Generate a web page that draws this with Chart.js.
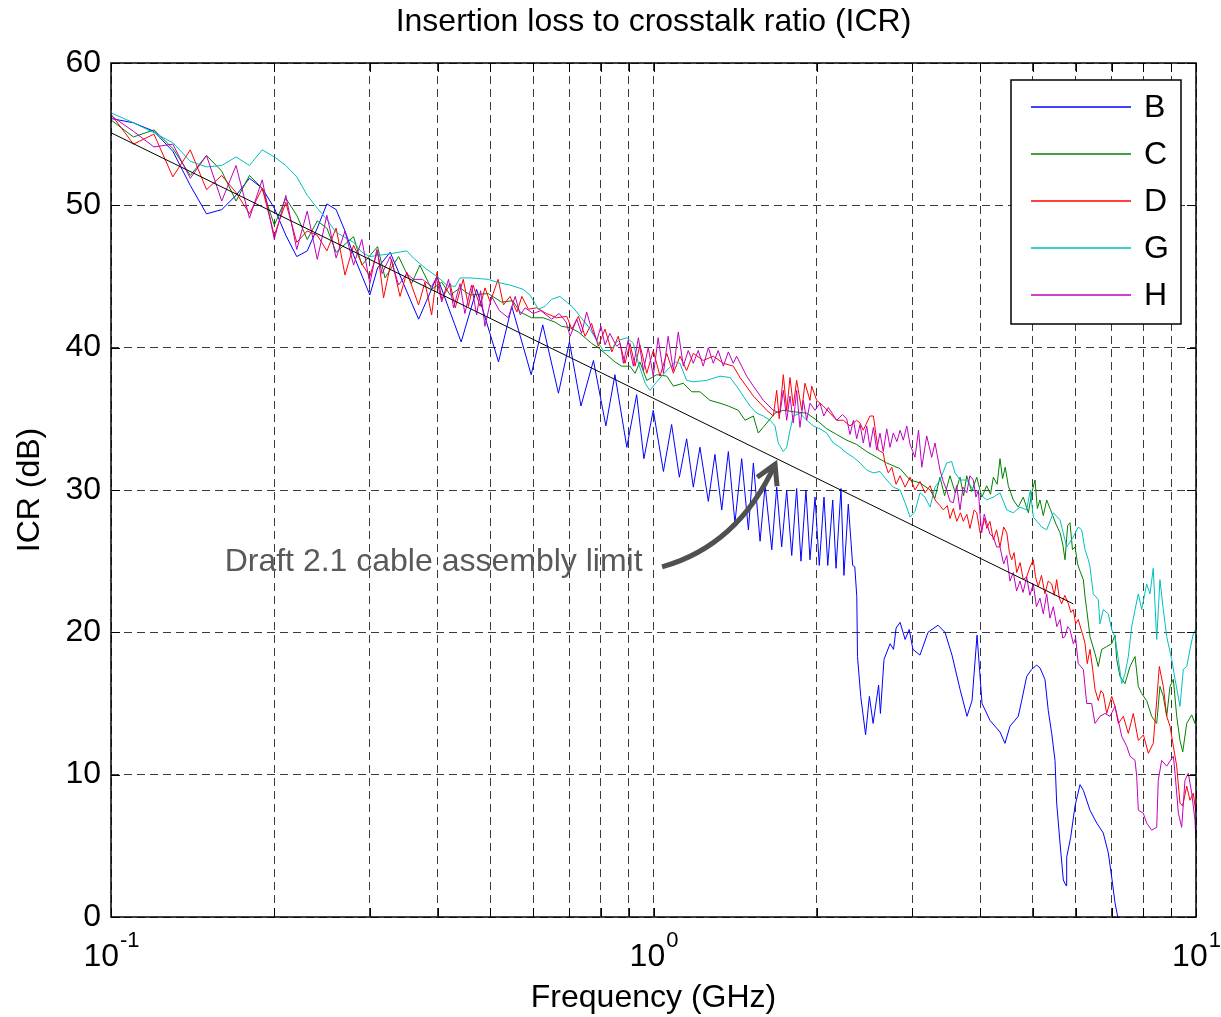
<!DOCTYPE html>
<html>
<head>
<meta charset="utf-8">
<title>Insertion loss to crosstalk ratio (ICR)</title>
<script src="https://cdn.jsdelivr.net/npm/chart.js@4.4.1/dist/chart.umd.min.js"></script>
<style>
  html, body { margin: 0; padding: 0; background: #fff; }
</style>
</head>
<body>
<canvas id="icr" width="1221" height="1017"></canvas>
<script>
// values, each point is [frequency in GHz, ICR in dB]
const seriesB = [[0.10,56.1],[0.11,55.8],[0.12,55.2],[0.13,53.8],[0.14,51.4],[0.15,49.4],[0.16,49.7],[0.17,50.7],[0.18,51.9],[0.19,51.2],[0.20,49.8],[0.21,47.9],[0.22,46.4],[0.23,46.8],[0.24,48.4],[0.25,50.1],[0.26,49.7],[0.27,48.2],[0.28,46.5],[0.30,43.7],[0.31,45.6],[0.327,46.7],[0.369,42.0],[0.399,45.0],[0.442,40.4],[0.472,44.1],[0.518,39.0],[0.548,42.9],[0.595,38.1],[0.625,41.6],[0.668,36.8],[0.700,40.4],[0.735,35.9],[0.775,39.1],[0.817,34.5],[0.849,38.1],[0.893,33.0],[0.931,36.7],[0.960,32.2],[0.999,35.6],[1.043,31.3],[1.080,34.6],[1.116,30.9],[1.151,33.6],[1.184,30.2],[1.218,33.0],[1.262,29.2],[1.298,32.5],[1.336,28.6],[1.374,32.7],[1.413,27.7],[1.454,32.2],[1.496,27.2],[1.528,31.9],[1.572,26.4],[1.606,30.3],[1.652,25.8],[1.687,30.2],[1.723,26.0],[1.760,30.0],[1.798,25.4],[1.836,30.1],[1.870,25.0],[1.910,30.0],[1.943,25.1],[1.985,29.5],[2.021,24.7],[2.062,29.5],[2.095,24.7],[2.140,29.3],[2.170,24.5],[2.216,30.1],[2.244,24.0],[2.286,29.0],[2.329,24.7],[2.350,24.6],[2.370,22.5],[2.377,18.3],[2.410,15.5],[2.460,12.8],[2.500,15.5],[2.540,13.6],[2.600,16.3],[2.620,14.3],[2.660,18.1],[2.730,19.2],[2.770,18.8],[2.800,20.3],[2.848,20.7],[2.909,19.5],[2.960,20.2],[3.008,18.8],[3.099,18.4],[3.206,20.0],[3.345,20.5],[3.446,20.0],[3.550,18.4],[3.673,16.0],[3.784,14.1],[3.865,15.2],[3.948,19.8],[4.033,15.0],[4.173,13.8],[4.352,13.0],[4.445,12.2],[4.540,13.4],[4.703,14.1],[4.772,15.2],[4.874,16.9],[4.979,17.4],[5.085,17.7],[5.157,17.5],[5.267,16.7],[5.342,14.5],[5.420,12.9],[5.497,11.0],[5.536,8.0],[5.615,5.2],[5.694,2.6],[5.760,2.2],[5.776,4.2],[5.875,5.6],[5.984,7.8],[6.112,9.3],[6.199,8.9],[6.377,7.5],[6.561,6.6],[6.747,5.9],[6.892,4.5],[6.992,2.8],[7.091,1.0],[7.192,-0.2]];

const seriesC = [[0.10,56.0],[0.11,54.8],[0.12,55.3],[0.13,54.0],[0.14,52.1],[0.15,53.5],[0.16,52.4],[0.17,50.3],[0.18,52.1],[0.19,51.2],[0.20,48.6],[0.21,50.5],[0.22,49.3],[0.23,47.6],[0.24,48.9],[0.25,48.4],[0.26,46.7],[0.28,47.8],[0.29,45.8],[0.31,47.1],[0.32,44.9],[0.339,46.4],[0.358,44.5],[0.371,45.8],[0.39,44.1],[0.407,44.6],[0.422,43.7],[0.44,44.2],[0.459,43.7],[0.496,43.8],[0.525,43.2],[0.55,43.3],[0.568,42.5],[0.596,42.1],[0.626,42.1],[0.658,41.8],[0.677,41.5],[0.702,41.4],[0.727,41.1],[0.748,40.7],[0.769,40.3],[0.791,40.0],[0.82,39.5],[0.849,39.0],[0.874,38.7],[0.905,38.7],[0.925,38.2],[0.944,39.0],[0.972,37.7],[1.014,38.1],[1.058,38.0],[1.088,37.3],[1.135,37.5],[1.176,36.9],[1.218,36.9],[1.271,36.3],[1.326,36.1],[1.374,35.9],[1.433,35.6],[1.475,34.9],[1.528,35.2],[1.56,34.0],[1.617,34.7],[1.675,35.4],[1.735,35.6],[1.81,35.5],[1.916,35.4],[1.999,34.9],[2.086,34.3],[2.176,33.9],[2.27,33.5],[2.369,33.2],[2.472,32.7],[2.579,32.3],[2.691,31.9],[2.848,31.5],[2.971,30.7],[3.099,30.5],[3.235,30.0],[3.30,29.4],[3.374,30.9],[3.44,29.6],[3.52,31.0],[3.60,29.8],[3.673,30.9],[3.73,29.6],[3.779,31.0],[3.86,29.9],[3.943,30.9],[4.03,29.5],[4.114,30.3],[4.18,29.7],[4.231,30.9],[4.30,30.4],[4.352,32.2],[4.40,30.8],[4.45,31.6],[4.508,30.3],[4.605,29.3],[4.703,28.8],[4.804,29.5],[4.909,28.4],[4.98,29.8],[5.05,30.7],[5.10,28.7],[5.157,29.3],[5.23,28.2],[5.306,29.3],[5.42,28.4],[5.52,27.6],[5.615,27.0],[5.68,26.2],[5.735,25.1],[5.80,27.5],[5.858,27.7],[5.92,25.8],[5.984,26.0],[6.05,24.8],[6.112,24.3],[6.199,23.7],[6.244,22.5],[6.288,21.6],[6.377,19.7],[6.514,18.5],[6.605,17.6],[6.701,18.8],[6.845,19.0],[6.992,19.2],[7.091,19.8],[7.142,18.1],[7.244,16.9],[7.399,16.4],[7.557,17.6],[7.72,18.3],[7.829,16.2],[7.941,15.7],[8.111,15.2],[8.286,14.1],[8.464,13.6],[8.581,16.2],[8.704,15.5],[8.831,14.1],[8.956,16.2],[9.083,16.7],[9.214,14.1],[9.343,12.4],[9.452,11.6],[9.614,13.6],[9.82,14.2],[9.958,13.6],[10.0,14.3]];

const seriesD = [[0.10,56.4],[0.11,54.3],[0.12,55.0],[0.13,52.0],[0.14,53.9],[0.15,51.1],[0.16,52.1],[0.17,50.9],[0.18,49.4],[0.19,51.2],[0.20,47.9],[0.21,50.2],[0.22,47.4],[0.23,48.2],[0.24,47.9],[0.25,46.8],[0.26,48.4],[0.27,45.1],[0.28,47.2],[0.29,45.9],[0.30,45.0],[0.31,46.8],[0.318,43.5],[0.329,46.2],[0.341,43.6],[0.351,45.3],[0.369,43.0],[0.379,44.6],[0.39,42.3],[0.399,45.3],[0.407,43.4],[0.422,44.5],[0.431,42.8],[0.446,44.8],[0.456,42.9],[0.465,44.4],[0.479,42.9],[0.489,44.2],[0.50,43.2],[0.517,44.8],[0.529,43.0],[0.544,43.6],[0.56,42.5],[0.572,43.6],[0.588,42.7],[0.609,42.8],[0.635,42.4],[0.663,42.1],[0.692,42.2],[0.707,41.3],[0.727,42.2],[0.748,40.8],[0.769,41.7],[0.791,40.1],[0.814,41.3],[0.838,39.7],[0.861,40.8],[0.886,38.9],[0.905,40.3],[0.925,38.7],[0.944,40.2],[0.972,38.2],[0.999,39.8],[1.028,38.0],[1.058,39.6],[1.088,38.2],[1.119,39.4],[1.151,38.4],[1.184,39.6],[1.235,39.1],[1.289,39.4],[1.345,38.9],[1.403,38.7],[1.444,37.9],[1.528,36.6],[1.572,36.1],[1.617,35.6],[1.663,35.2],[1.687,37.0],[1.705,35.0],[1.735,38.1],[1.76,35.6],[1.785,37.9],[1.81,35.9],[1.836,37.7],[1.876,35.6],[1.902,37.5],[1.943,36.3],[1.957,37.3],[1.999,36.3],[2.056,35.9],[2.115,35.4],[2.176,34.9],[2.239,34.9],[2.303,34.5],[2.369,34.9],[2.403,34.7],[2.436,34.2],[2.506,35.2],[2.543,35.2],[2.579,33.5],[2.596,32.8],[2.652,32.6],[2.671,31.9],[2.709,31.2],[2.749,31.6],[2.80,30.4],[2.848,31.0],[2.909,30.2],[2.971,30.9],[3.034,30.0],[3.099,30.6],[3.165,29.8],[3.235,30.3],[3.303,29.3],[3.374,28.9],[3.422,28.6],[3.48,28.9],[3.52,28.0],[3.57,28.7],[3.623,27.8],[3.68,28.4],[3.725,27.8],[3.78,28.3],[3.832,27.3],[3.90,28.6],[3.943,28.4],[4.00,27.0],[4.027,27.2],[4.08,28.0],[4.114,27.3],[4.17,27.8],[4.231,26.5],[4.29,27.2],[4.352,26.0],[4.42,27.4],[4.479,27.0],[4.53,25.6],[4.575,25.1],[4.62,25.6],[4.673,24.2],[4.74,24.9],[4.804,23.7],[4.874,23.9],[4.943,24.6],[5.013,25.1],[5.06,23.9],[5.12,23.2],[5.19,24.0],[5.267,22.7],[5.34,23.6],[5.42,23.4],[5.48,22.6],[5.536,23.7],[5.60,22.4],[5.655,22.0],[5.73,22.6],[5.819,22.0],[5.88,21.4],[5.941,21.6],[6.0,20.6],[6.067,20.9],[6.13,20.3],[6.199,19.7],[6.244,19.2],[6.303,17.8],[6.377,18.8],[6.45,17.4],[6.514,16.0],[6.605,15.2],[6.68,15.9],[6.747,15.7],[6.845,14.3],[6.992,15.5],[7.091,14.8],[7.192,13.6],[7.345,14.1],[7.503,12.9],[7.663,14.3],[7.829,12.4],[8.0,12.8],[8.169,11.5],[8.341,12.2],[8.464,15.2],[8.557,17.6],[8.704,16.2],[8.831,14.1],[8.956,13.4],[9.083,12.0],[9.214,10.6],[9.343,8.0],[9.45,7.8],[9.614,9.2],[9.748,8.2],[9.886,8.7],[10.0,7.3]];

const seriesG = [[0.10,56.5],[0.11,55.8],[0.12,55.1],[0.13,54.4],[0.14,53.1],[0.15,52.7],[0.16,52.8],[0.17,53.4],[0.18,52.8],[0.19,53.9],[0.20,53.4],[0.21,52.8],[0.22,52.0],[0.23,50.7],[0.24,49.8],[0.25,49.0],[0.26,48.1],[0.28,47.4],[0.29,46.7],[0.30,46.4],[0.327,46.6],[0.351,46.8],[0.361,46.3],[0.371,45.9],[0.382,45.5],[0.399,45.0],[0.416,44.4],[0.431,44.3],[0.44,44.9],[0.459,44.9],[0.496,44.8],[0.514,44.6],[0.544,44.4],[0.575,44.1],[0.592,43.7],[0.605,43.1],[0.613,42.7],[0.631,42.9],[0.649,43.4],[0.672,43.6],[0.692,43.2],[0.712,42.8],[0.732,42.2],[0.758,41.5],[0.786,40.5],[0.808,39.8],[0.831,39.8],[0.861,40.5],[0.893,40.7],[0.918,40.3],[0.938,38.9],[0.965,37.5],[0.985,37.0],[1.014,37.6],[1.058,38.4],[1.096,39.0],[1.119,38.9],[1.151,37.7],[1.184,37.6],[1.253,37.7],[1.326,38.0],[1.384,37.9],[1.423,37.3],[1.464,36.6],[1.506,35.9],[1.549,35.4],[1.594,35.2],[1.64,34.9],[1.675,34.5],[1.698,33.3],[1.735,32.7],[1.76,33.0],[1.785,34.2],[1.81,35.2],[1.862,35.4],[1.916,34.9],[1.971,34.5],[2.027,34.3],[2.086,34.0],[2.145,33.3],[2.207,33.0],[2.27,32.6],[2.335,32.3],[2.403,31.9],[2.472,31.4],[2.543,31.2],[2.615,31.3],[2.691,30.7],[2.767,30.2],[2.848,30.0],[2.909,29.1],[2.971,28.1],[3.034,28.5],[3.099,29.8],[3.165,29.5],[3.235,28.8],[3.303,30.2],[3.374,30.7],[3.471,31.9],[3.546,32.0],[3.596,31.2],[3.673,30.7],[3.779,30.7],[3.886,30.0],[3.998,29.7],[4.114,29.3],[4.231,29.5],[4.352,29.8],[4.479,28.6],[4.605,28.4],[4.738,28.8],[4.874,28.6],[4.95,30.0],[5.013,28.1],[5.195,27.4],[5.306,27.2],[5.458,28.4],[5.615,27.9],[5.776,26.0],[5.941,26.7],[6.067,27.4],[6.156,27.2],[6.244,25.8],[6.333,25.1],[6.377,24.6],[6.466,22.7],[6.605,22.3],[6.653,20.6],[6.747,21.6],[6.892,21.3],[6.992,20.2],[7.091,19.7],[7.192,18.1],[7.295,16.4],[7.399,17.1],[7.503,18.3],[7.612,20.4],[7.72,21.6],[7.829,22.7],[7.941,21.6],[8.111,23.4],[8.226,22.7],[8.341,24.5],[8.464,19.5],[8.581,23.7],[8.704,21.6],[8.831,19.7],[9.021,18.1],[9.15,16.7],[9.343,14.8],[9.476,17.4],[9.614,17.6],[9.748,18.8],[9.886,19.9],[10.0,20.2]];

const seriesH = [[0.10,56.3],[0.11,55.2],[0.12,54.1],[0.13,54.3],[0.14,51.9],[0.15,53.5],[0.16,50.3],[0.17,52.8],[0.18,49.1],[0.19,51.8],[0.20,47.6],[0.21,50.7],[0.22,46.9],[0.23,49.6],[0.24,46.2],[0.25,49.3],[0.26,46.3],[0.27,48.2],[0.28,45.8],[0.29,47.6],[0.30,44.5],[0.309,46.9],[0.316,45.2],[0.327,46.4],[0.339,44.4],[0.351,45.2],[0.361,44.8],[0.375,44.8],[0.39,44.3],[0.398,44.9],[0.407,43.2],[0.419,44.8],[0.428,42.8],[0.44,44.5],[0.449,42.4],[0.462,44.4],[0.472,42.3],[0.48,44.0],[0.489,41.5],[0.503,43.6],[0.52,42.6],[0.54,42.1],[0.556,43.6],[0.568,42.3],[0.58,42.8],[0.60,42.4],[0.62,42.6],[0.649,42.0],[0.67,42.4],[0.69,41.8],[0.702,40.8],[0.722,42.0],[0.737,41.0],[0.753,42.5],[0.769,41.3],[0.786,40.5],[0.80,41.5],[0.814,40.2],[0.831,41.0],[0.855,40.1],[0.868,40.3],[0.88,38.9],[0.898,40.5],[0.918,38.7],[0.938,40.7],[0.958,38.4],[0.978,40.0],[0.999,38.0],[1.02,40.7],[1.043,38.2],[1.064,40.8],[1.088,38.4],[1.111,41.1],[1.135,38.7],[1.159,39.8],[1.184,38.9],[1.209,39.8],[1.235,38.7],[1.262,40.0],[1.289,38.9],[1.316,39.8],[1.345,38.7],[1.374,39.7],[1.403,38.9],[1.423,39.4],[1.485,38.0],[1.528,37.3],[1.594,36.3],[1.663,35.6],[1.711,35.4],[1.735,37.0],[1.76,34.9],[1.785,36.6],[1.81,34.7],[1.836,37.0],[1.862,34.4],[1.889,36.3],[1.916,34.9],[1.943,36.1],[1.985,35.6],[2.027,36.1],[2.06,35.2],[2.10,35.8],[2.176,34.9],[2.23,35.3],[2.27,35.0],[2.303,33.9],[2.336,34.9],[2.369,33.6],[2.403,34.6],[2.436,33.3],[2.472,34.5],[2.506,33.0],[2.543,34.4],[2.579,32.8],[2.615,34.0],[2.652,32.7],[2.691,34.3],[2.729,33.0],[2.767,34.0],[2.81,33.4],[2.848,34.2],[2.887,33.5],[2.93,34.5],[2.971,33.2],[3.034,32.3],[3.08,34.2],[3.123,31.6],[3.189,33.8],[3.257,32.3],[3.303,33.3],[3.374,31.4],[3.42,30.6],[3.471,30.0],[3.52,29.2],[3.57,29.1],[3.62,30.3],[3.673,28.6],[3.72,30.2],[3.779,29.8],[3.83,31.0],[3.886,30.7],[3.93,29.5],[3.97,30.0],[4.0,28.2],[4.027,27.0],[4.07,28.3],[4.114,27.7],[4.17,26.9],[4.231,26.7],[4.29,26.0],[4.352,26.0],[4.42,24.8],[4.479,25.4],[4.54,23.6],[4.605,24.2],[4.67,22.9],[4.738,23.6],[4.80,22.8],[4.874,23.9],[4.94,22.6],[5.013,23.4],[5.08,21.8],[5.157,22.4],[5.23,21.3],[5.306,22.7],[5.38,21.0],[5.458,21.8],[5.54,20.4],[5.615,20.9],[5.68,19.6],[5.735,19.7],[5.80,20.4],[5.858,20.2],[5.941,19.2],[6.0,19.6],[6.067,17.8],[6.199,17.4],[6.288,15.0],[6.421,15.0],[6.514,13.6],[6.653,14.1],[6.795,14.3],[6.941,14.1],[7.091,14.8],[7.192,13.8],[7.295,12.7],[7.451,12.0],[7.557,11.3],[7.72,11.0],[7.774,9.9],[7.829,7.5],[7.993,7.3],[8.111,6.6],[8.286,6.1],[8.464,6.3],[8.52,9.6],[8.644,11.0],[8.831,10.6],[9.083,11.3],[9.15,10.1],[9.278,7.3],[9.41,6.3],[9.543,9.6],[9.678,10.1],[9.82,8.7],[9.958,6.8],[10.0,5.2]];

// draft 2.1 cable assembly limit (straight line on the log axis)
const limitLine = [[0.1,55.1],[5.94,22.0]];

const legendNames = ['B', 'C', 'D', 'G', 'H'];
const lineColors = ['#0000ff', '#008000', '#ff0000', '#00bfbf', '#bf00bf'];

const xGrid = [0.1,0.2,0.3,0.4,0.5,0.6,0.7,0.8,0.9,1,2,3,4,5,6,7,8,9,10];
const yTicks = [0, 10, 20, 30, 40, 50, 60];
const xTickLabels = [[0.1, '-1'], [1, '0'], [10, '1']];

const annotText = 'Draft 2.1 cable assembly limit';
const annotAt = [0.162, 24.9];
// arrow: start, bend, tip (GHz, dB)
const arrowPts = [[1.037, 24.6], [1.432, 26.1], [1.675, 31.8]];

const FONT = "'Liberation Sans', Arial, Helvetica, sans-serif";

function toPoints(arr) {
  return arr.map(p => ({x: p[0], y: p[1]}));
}

var curves = [seriesB, seriesC, seriesD, seriesG, seriesH];
var datasets = curves.map((s, i) => ({
  label: legendNames[i],
  data: toPoints(s),
  borderColor: lineColors[i],
  borderWidth: 1,
  pointRadius: 0,
  tension: 0,
  fill: false,
  order: 6 - i
}));
datasets.push({
  label: 'limit',
  data: toPoints(limitLine),
  borderColor: '#000000',
  borderWidth: 1,
  pointRadius: 0,
  fill: false,
  order: 0
});

// box, inner ticks, x labels with exponents, note with arrow, legend
const matlabLook = {
  id: 'matlabLook',
  afterDatasetsDraw(chart) {
    const {ctx, chartArea: a} = chart;
    const xs = chart.scales.x, ys = chart.scales.y;
    ctx.save();

    ctx.strokeStyle = '#000';
    ctx.lineWidth = 1;
    ctx.setLineDash([]);
    ctx.beginPath();
    xGrid.forEach(v => {
      const px = Math.round(xs.getPixelForValue(v)) + 0.5;
      ctx.moveTo(px, a.bottom); ctx.lineTo(px, a.bottom - 9);
      ctx.moveTo(px, a.top); ctx.lineTo(px, a.top + 9);
    });
    yTicks.forEach(v => {
      const py = Math.round(ys.getPixelForValue(v)) + 0.5;
      ctx.moveTo(a.left, py); ctx.lineTo(a.left + 9, py);
      ctx.moveTo(a.right, py); ctx.lineTo(a.right - 9, py);
    });
    ctx.stroke();

    ctx.lineWidth = 1.5;
    ctx.strokeRect(a.left, a.top, a.right - a.left, a.bottom - a.top);

    // 10^n labels
    ctx.fillStyle = '#000';
    ctx.textBaseline = 'alphabetic';
    ctx.textAlign = 'left';
    xTickLabels.forEach(([v, e]) => {
      const px = xs.getPixelForValue(v);
      ctx.font = '32px ' + FONT;
      const wb = ctx.measureText('10').width;
      ctx.font = '22px ' + FONT;
      const we = ctx.measureText(e).width;
      const x0 = px - (wb + we) / 2;
      ctx.font = '32px ' + FONT;
      ctx.fillText('10', x0, a.bottom + 49);
      ctx.font = '22px ' + FONT;
      ctx.fillText(e, x0 + wb + 1, a.bottom + 30);
    });

    // annotation
    ctx.fillStyle = '#595959';
    ctx.font = '32px ' + FONT;
    ctx.textBaseline = 'middle';
    ctx.fillText(annotText, xs.getPixelForValue(annotAt[0]), ys.getPixelForValue(annotAt[1]));

    const p = arrowPts.map(q => [xs.getPixelForValue(q[0]), ys.getPixelForValue(q[1])]);
    ctx.strokeStyle = '#505050';
    ctx.lineWidth = 5;
    ctx.lineCap = 'butt';
    ctx.lineJoin = 'miter';
    ctx.beginPath();
    ctx.moveTo(p[0][0], p[0][1]);
    ctx.quadraticCurveTo(p[1][0], p[1][1], p[2][0], p[2][1]);
    ctx.stroke();
    const ang = Math.atan2(p[1][1] - p[2][1], p[1][0] - p[2][0]);
    const len = 22, spread = 0.52;
    ctx.beginPath();
    ctx.moveTo(p[2][0] + len * Math.cos(ang + spread), p[2][1] + len * Math.sin(ang + spread));
    ctx.lineTo(p[2][0], p[2][1]);
    ctx.lineTo(p[2][0] + len * Math.cos(ang - spread), p[2][1] + len * Math.sin(ang - spread));
    ctx.stroke();

    // legend box in the upper right corner
    const lx = a.right - 185, ly = a.top + 17, lw = 170, lh = 244;
    ctx.fillStyle = '#fff';
    ctx.fillRect(lx, ly, lw, lh);
    ctx.strokeStyle = '#000';
    ctx.lineWidth = 1.5;
    ctx.strokeRect(lx, ly, lw, lh);
    ctx.font = '32px ' + FONT;
    ctx.textBaseline = 'middle';
    legendNames.forEach((name, i) => {
      const yy = ly + 27 + i * 47;
      ctx.strokeStyle = lineColors[i];
      ctx.lineWidth = 1.5;
      ctx.beginPath();
      ctx.moveTo(lx + 20, yy);
      ctx.lineTo(lx + 120, yy);
      ctx.stroke();
      ctx.fillStyle = '#000';
      ctx.fillText(name, lx + 133, yy + 1);
    });

    ctx.restore();
  }
};

new Chart(document.getElementById('icr'), {
  type: 'line',
  data: { datasets: datasets },
  plugins: [matlabLook],
  options: {
    responsive: false,
    animation: false,
    events: [],
    layout: { padding: { top: 0, right: 25, bottom: 0, left: 0 } },
    plugins: {
      legend: { display: false },
      tooltip: { enabled: false },
      title: {
        display: true,
        fullSize: false,
        text: 'Insertion loss to crosstalk ratio (ICR)',
        color: '#000',
        font: { family: FONT, size: 32, weight: 'normal', lineHeight: 1.2 },
        padding: { top: 3, bottom: 21.6 }
      }
    },
    scales: {
      x: {
        type: 'logarithmic',
        min: 0.1,
        max: 10,
        afterBuildTicks: s => { s.ticks = xGrid.map(v => ({value: v})); },
        afterFit: s => { s.height = 100; },
        ticks: { display: false },
        grid: { color: '#3a3a3a', lineWidth: 1, drawTicks: false },
        border: { display: false, dash: [8, 5] },
        title: {
          display: true,
          text: 'Frequency (GHz)',
          color: '#000',
          font: { family: FONT, size: 32, lineHeight: 1.2 },
          padding: { top: 0, bottom: 0 }
        }
      },
      y: {
        min: 0,
        max: 60,
        afterBuildTicks: s => { s.ticks = yTicks.map(v => ({value: v})); },
        afterFit: s => { s.width = 111; },
        ticks: { color: '#000', font: { family: FONT, size: 32 }, padding: 10 },
        grid: { color: '#3a3a3a', lineWidth: 1, drawTicks: false },
        border: { display: false, dash: [8, 5] },
        title: {
          display: true,
          text: 'ICR (dB)',
          color: '#000',
          font: { family: FONT, size: 32, lineHeight: 1.2 },
          padding: { top: 11, bottom: 0 }
        }
      }
    }
  }
});
</script>
</body>
</html>
